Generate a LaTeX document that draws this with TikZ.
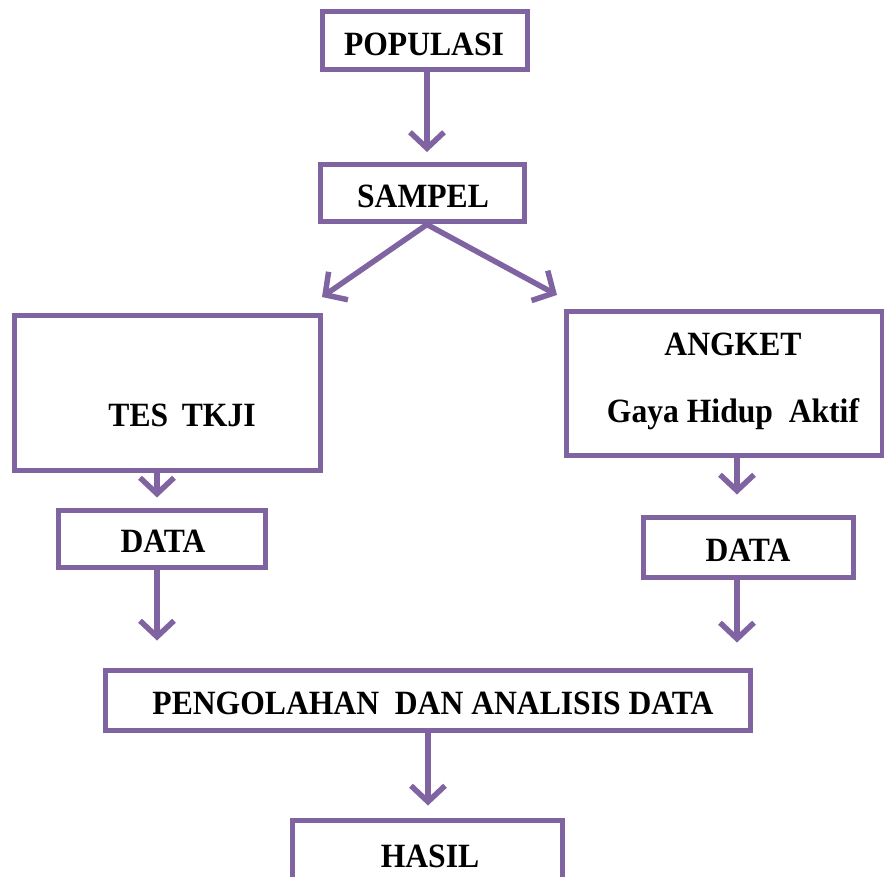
\documentclass[tikz,border=0pt]{standalone}
\usepackage{fontspec}
\setmainfont{Liberation Serif}[FakeStretch=0.93]
\usetikzlibrary{arrows.meta}
\definecolor{pcol}{HTML}{8064A2}
\begin{document}
\begin{tikzpicture}[x=1pt,y=-1pt,
  box/.style={draw=pcol,line width=5pt,fill=white,rectangle,inner sep=0pt},
  txt/.style={font=\fontsize{34}{40}\selectfont\bfseries,inner sep=0pt},
  arr/.style={draw=pcol,line width=5.5pt,-{Straight Barb[length=16pt,width=34pt]}}]
\useasboundingbox (0,0) rectangle (884,877);
\begin{scope}
\clip (0,0) rectangle (884,877);
\node[box,minimum width=205pt,minimum height=58pt] (pop) at (425,41) {};
\node[txt] (poptxt) at (424,44) {POPULASI};
\node[box,minimum width=204pt,minimum height=57pt] (samp) at (422,193.5) {};
\node[txt] (samptxt) at (423,196) {SAMPEL};
\node[box,minimum width=306pt,minimum height=154pt] (tes) at (167,393) {};
\node[txt] (testxt) at (182,415) {TES\, TKJI};
\node[box,minimum width=316pt,minimum height=143pt] (ang) at (724,383.5) {};
\node[txt] (angtxt1) at (733,344) {ANGKET};
\node[txt] (angtxt2) at (733,414) {Gaya Hidup\ \ Aktif};
\node[box,minimum width=207pt,minimum height=57pt] (data1) at (161.5,538.5) {};
\node[txt] (d1txt) at (163,541) {DATA};
\node[box,minimum width=210pt,minimum height=60pt] (data2) at (748,547) {};
\node[txt] (d2txt) at (748,550) {DATA};
\node[box,minimum width=645pt,minimum height=60pt] (peng) at (427.5,700) {};
\node[txt] (pengtxt) at (433,703) {PENGOLAHAN\ \ DAN ANALISIS DATA};
\node[box,minimum width=270pt,minimum height=90pt] (hasil) at (427,865) {};
\node[txt] (hasiltxt) at (430,856) {HASIL};
\coordinate (tl) at (322,297);
\coordinate (tr) at (557,295);
\draw[arr,shorten >=13pt] (427,70) -- (427,165);
\draw[arr] ([xshift=5pt]samp.south) -- (tl);
\draw[arr] ([xshift=5pt]samp.south) -- (tr);
\draw[arr,shorten >=10pt] ([xshift=-10pt]tes.south) -- ([xshift=-4.5pt]data1.north);
\draw[arr,shorten >=27pt] ([xshift=-4.5pt]data1.south) -- ([xshift=-4.5pt]data1.south |- peng.north);
\draw[arr,shorten >=20pt] ([xshift=13pt]ang.south) -- ([xshift=-11pt]data2.north);
\draw[arr,shorten >=25pt] ([xshift=-11pt]data2.south) -- ([xshift=-11pt]data2.south |- peng.north);
\draw[arr,shorten >=12pt] ([xshift=0.5pt]peng.south) -- ([xshift=0.5pt]peng.south |- hasil.north);
\end{scope}
\end{tikzpicture}
\end{document}
